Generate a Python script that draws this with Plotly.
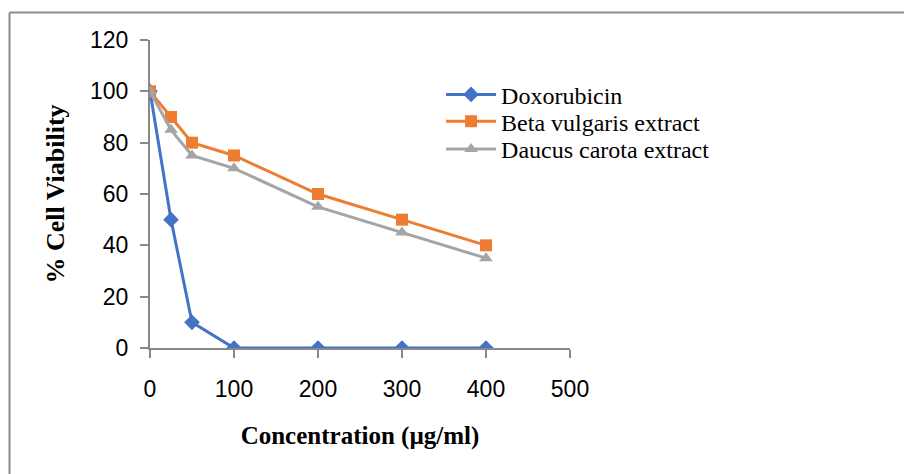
import plotly.graph_objects as go

concentration = [0, 25, 50, 100, 200, 300, 400]
doxorubicin = [100, 50, 10, 0, 0, 0, 0]
beta_vulgaris = [100, 90, 80, 75, 60, 50, 40]
daucus_carota = [100, 85, 75, 70, 55, 45, 35]
series_names = ["Doxorubicin", "Beta vulgaris extract", "Daucus carota extract"]
x_ticks = [0, 100, 200, 300, 400, 500]
y_ticks = [0, 20, 40, 60, 80, 100, 120]

fig = go.Figure()
fig.add_trace(go.Scatter(x=concentration, y=doxorubicin, name=series_names[0],
                         mode="lines+markers", legend="legend",
                         line=dict(color="#4472C4", width=3),
                         marker=dict(symbol="diamond", size=12, color="#4472C4")))
fig.add_trace(go.Scatter(x=concentration, y=beta_vulgaris, name=series_names[1],
                         mode="lines+markers", legend="legend2",
                         line=dict(color="#ED7D31", width=3),
                         marker=dict(symbol="square", size=12, color="#ED7D31")))
fig.add_trace(go.Scatter(x=concentration, y=daucus_carota, name=series_names[2],
                         mode="lines+markers", legend="legend3",
                         line=dict(color="#A5A5A5", width=3),
                         marker=dict(symbol="triangle-up", size=12, color="#A5A5A5")))

axis_color = "#898989"
legend_font = dict(family="Liberation Serif", size=24, color="black")
def legend_at(yv):
    return dict(x=0.693, y=yv, xanchor="left", yanchor="middle", font=legend_font,
                itemwidth=50, bgcolor="rgba(0,0,0,0)")

fig.update_layout(
    width=904, height=466,
    margin=dict(l=142, r=342, t=32, b=126),
    paper_bgcolor="white", plot_bgcolor="white",
    showlegend=True,
    legend=legend_at(0.822),
    legend2=legend_at(0.735),
    legend3=legend_at(0.645),
    xaxis=dict(range=[0, 500], tickvals=x_ticks, showgrid=False, zeroline=False,
               showline=True, linecolor=axis_color, linewidth=2,
               ticks="outside", ticklen=8, tickcolor=axis_color, tickwidth=2,
               ticklabelstandoff=11,
               tickfont=dict(family="Liberation Sans", size=23, color="black"),
               title=dict(text="<b>Concentration (µg/ml)</b>", standoff=26,
                          font=dict(family="Liberation Serif", size=25, color="black"))),
    yaxis=dict(range=[0, 120], tickvals=y_ticks, showgrid=False, zeroline=False,
               showline=True, linecolor=axis_color, linewidth=2,
               ticks="outside", ticklen=8, tickcolor=axis_color, tickwidth=2,
               ticklabelstandoff=7,
               tickfont=dict(family="Liberation Sans", size=23, color="black"),
               title=dict(text="<b>% Cell Viability</b>", standoff=18,
                          font=dict(family="Liberation Serif", size=26, color="black"))),
    shapes=[
        dict(type="line", xref="paper", yref="paper", x0=-0.3345, y0=1.0893, x1=1.9, y1=1.0893,
             line=dict(color="#8c8c8c", width=2)),
        dict(type="line", xref="paper", yref="paper", x0=-0.3345, y0=1.0893, x1=-0.3345, y1=-0.5,
             line=dict(color="#8c8c8c", width=2)),
    ],
)

fig.write_html("out.html")
